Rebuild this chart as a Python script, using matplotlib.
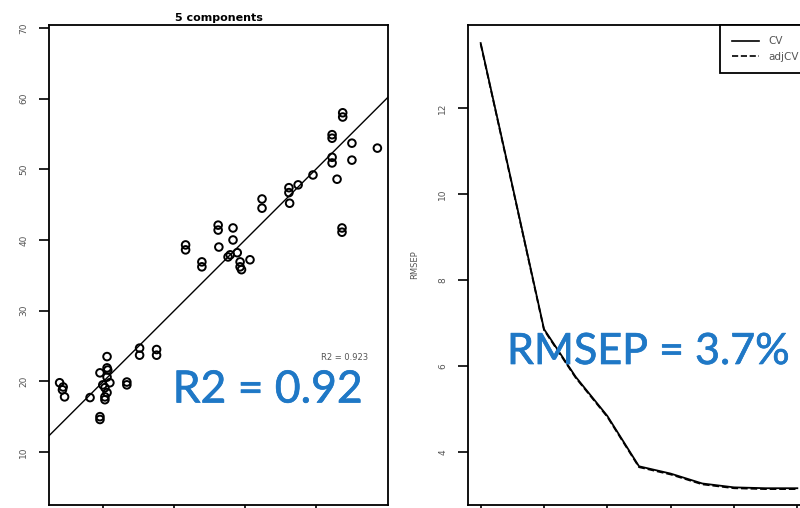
import numpy as np
import matplotlib
matplotlib.use("Agg")
import matplotlib.pyplot as plt
import matplotlib.patheffects as pe
from matplotlib.lines import Line2D

# measured vs predicted, 5 components
measured = [13.8, 14.2, 14.5, 14.3, 18.1, 19.5, 19.5, 20.5, 20.5, 19.5,
            20.5, 19.9, 20.2, 20.9, 20.6, 20.2, 20.5, 20.2, 23.3, 23.3,
            25.1, 25.1, 27.5, 27.5,
            31.6, 31.6, 33.9, 33.9, 36.2, 36.2, 38.3, 38.3, 36.3, 37.6,
            38.9, 37.9, 39.3, 39.5, 40.7, 39.3, 42.4, 42.4,
            46.2, 46.2, 46.3, 47.5, 49.6, 52.3, 52.3, 52.3, 52.3, 53.0,
            53.8, 53.8, 55.1, 55.1, 58.7, 53.7, 53.7]
predicted = [19.8, 18.8, 17.8, 19.2, 17.7, 15.0, 14.6, 23.5, 21.9, 21.2,
             20.6, 19.5, 17.8, 19.8, 21.6, 19.1, 18.4, 17.4, 19.9, 19.5,
             24.7, 23.7, 24.5, 23.7,
             39.3, 38.6, 36.9, 36.2, 42.1, 41.4, 41.7, 40.0, 39.0, 37.6,
             38.2, 37.9, 36.9, 35.8, 37.2, 36.2, 45.8, 44.5,
             47.4, 46.7, 45.2, 47.8, 49.2, 51.7, 50.9, 54.9, 54.4, 48.6,
             58.0, 57.4, 53.7, 51.3, 53.0, 41.7, 41.1]

# RMSEP vs number of components
ncomp = list(range(11))
rmsep_cv = [13.51, 10.2, 6.86, 5.75, 4.84, 3.67, 3.5, 3.27, 3.18, 3.16, 3.16]
rmsep_adjcv = [13.49, 10.18, 6.84, 5.73, 4.82, 3.65, 3.48, 3.25, 3.16, 3.14, 3.14]

blue = "#1f78c6"
grey = "#555555"

W, H = 800, 508
fig = plt.figure(figsize=(W / 100, H / 100), dpi=100)


def px_box(x0, y0, x1, y1):
    return [x0 / W, 1 - y1 / H, (x1 - x0) / W, (y1 - y0) / H]


def r_style(ax):
    for s in ax.spines.values():
        s.set_linewidth(1.3)
        s.set_color("black")
    ax.tick_params(direction="out", length=7, width=1.2, colors="black",
                   labelcolor=grey, labelsize=6.5, pad=8)
    for lab in ax.get_yticklabels():
        lab.set_rotation(90)
        lab.set_va("center")
    ax.tick_params(axis="x", labelbottom=False)


big = dict(color=blue, family="Lato", va="center",
           path_effects=[pe.withStroke(linewidth=0.5, foreground=blue)])

# left panel
ax1 = fig.add_axes(px_box(49, 25, 388, 505))
ax1.scatter(measured, predicted, s=30, facecolors="none", edgecolors="black",
            linewidths=1.4, zorder=3)
ax1.axline((20, 20), (50, 50), color="black", lw=1.0)
ax1.set_xlim(12.3, 60.2)
ax1.set_ylim(2.5, 70.42)
ax1.set_xticks([20, 30, 40, 50])
ax1.set_yticks([10, 20, 30, 40, 50, 60, 70])
r_style(ax1)
ax1.set_title("5 components", fontsize=8, fontweight="bold", pad=3)
fig.text(368 / W, 1 - 358 / H, "R2 = 0.923", fontsize=6, color=grey,
         ha="right", va="center")
fig.text(268 / W, 1 - 390 / H, "R2 = 0.92", ha="center", fontsize=32, **big)

# right panel
ax2 = fig.add_axes(px_box(468, 25, 810, 505))
ax2.plot(ncomp, rmsep_cv, color="black", lw=1.3, ls="-")
ax2.plot(ncomp, rmsep_adjcv, color="black", lw=1.3, ls="--")
ax2.set_xlim(-0.4, 10.4)
ax2.set_ylim(2.77, 13.93)
ax2.set_xticks([0, 2, 4, 6, 8, 10])
ax2.set_yticks([4, 6, 8, 10, 12])
r_style(ax2)
ax2.set_ylabel("RMSEP", fontsize=6, color=grey, labelpad=14)
handles = [Line2D([], [], color="black", lw=1.2, ls="-"),
           Line2D([], [], color="black", lw=1.2, ls="--")]
leg = ax2.legend(handles, ["CV", "adjCV"], loc="upper right", fontsize=7.5,
                 fancybox=False, edgecolor="black", borderaxespad=0,
                 handlelength=2.6, labelspacing=0.5, borderpad=1.1,
                 handletextpad=0.9, framealpha=1)
leg.get_frame().set_linewidth(1.3)
for t in leg.get_texts():
    t.set_color(grey)
fig.text(507 / W, 1 - 352 / H, "RMSEP = 3.7%", ha="left", fontsize=31, **big)

fig.savefig("out.png", dpi=100)
